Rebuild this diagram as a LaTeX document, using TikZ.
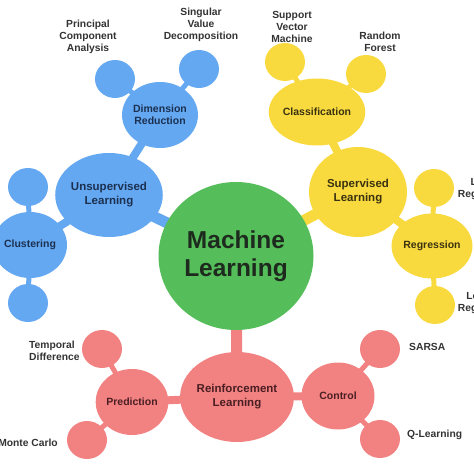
\documentclass[tikz,border=0pt]{standalone}
\usepackage{fontspec}
\setmainfont{Liberation Sans}
\usetikzlibrary{shapes.geometric}
\pgfdeclarelayer{bg}
\pgfsetlayers{bg,main}
\definecolor{cBlue}{HTML}{64A8F2}
\definecolor{cGreen}{HTML}{55BD5A}
\definecolor{cYellow}{HTML}{F9DA3E}
\definecolor{cRed}{HTML}{F28282}
\definecolor{tBlue}{HTML}{1C3050}
\definecolor{tGreen}{HTML}{1E2A1E}
\definecolor{tYellow}{HTML}{3A3210}
\definecolor{tRed}{HTML}{4A1E22}
\definecolor{tLab}{HTML}{333333}
\begin{document}
\begin{tikzpicture}[x=1pt,y=-1pt,
  bub/.style={ellipse, inner sep=0pt, align=center, font=\bfseries\fontsize{10.5}{12}\selectfont},
  mainb/.style={bub, font=\bfseries\fontsize{11.5}{14}\selectfont},
  leaf/.style={ellipse, inner sep=0pt, minimum width=40pt, minimum height=38pt},
  lab/.style={inner sep=0pt, align=center, text=tLab, font=\bfseries\fontsize{10.3}{12}\selectfont},
  thick conn/.style={line width=11pt},
  mid conn/.style={line width=8pt},
  neck/.style={line width=5pt}]
\useasboundingbox (0,0) rectangle (474,474);
\clip (0,0) rectangle (474,474);

% centre
\node[bub, fill=cGreen, text=tGreen, minimum width=155pt, minimum height=148pt,
      font=\bfseries\fontsize{24.5}{28}\selectfont] (ML) at (236,256) {Machine\\Learning};

% unsupervised (blue)
\node[mainb, fill=cBlue, text=tBlue, minimum width=104pt, minimum height=84pt] (UL) at (109,195) {Unsupervised\\Learning};
\node[bub, fill=cBlue, text=tBlue, minimum width=74pt, minimum height=66pt] (DR) at (160,115) {Dimension\\Reduction};
\node[bub, fill=cBlue, text=tBlue, minimum width=74pt, minimum height=66pt] (CL) at (30,245) {Clustering};
\node[leaf, fill=cBlue] (pca) at (115,79) {};
\node[leaf, fill=cBlue] (svd) at (199,69) {};
\node[leaf, fill=cBlue] (cl1) at (28,187) {};
\node[leaf, fill=cBlue] (cl2) at (28,303) {};
\node[lab] (lpca) at (88,37) {Principal\\Component\\Analysis};
\node[lab] (lsvd) at (201,25) {Singular\\Value\\Decomposition};

% supervised (yellow)
\node[mainb, fill=cYellow, text=tYellow, minimum width=98pt, minimum height=90pt] (SL) at (358,192) {Supervised\\Learning};
\node[bub, fill=cYellow, text=tYellow, minimum width=75pt, minimum height=67pt] (CF) at (317,112) {Classification};
\node[bub, fill=cYellow, text=tYellow, minimum width=75pt, minimum height=65pt] (RG) at (432,246) {Regression};
\node[leaf, fill=cYellow] (svm) at (285,62) {};
\node[leaf, fill=cYellow] (rf) at (366,74) {};
\node[leaf, fill=cYellow] (rg1) at (434,188) {};
\node[leaf, fill=cYellow] (rg2) at (435,305) {};
\node[lab] (lsvm) at (292,27) {Support\\Vector\\Machine};
\node[lab] (lrf) at (380,42) {Random\\Forest};
\node[lab] (lrg1) at (486,189) {Linear\\Regression};
\node[lab] (lrg2) at (486,303) {Logistic\\Regression};

% reinforcement (red)
\node[mainb, fill=cRed, text=tRed, minimum width=100pt, minimum height=90pt] (RL) at (237,397) {Reinforcement\\Learning};
\node[bub, fill=cRed, text=tRed, minimum width=72pt, minimum height=66pt] (PR) at (132,402) {Prediction};
\node[bub, fill=cRed, text=tRed, minimum width=73pt, minimum height=67pt] (CT) at (338,396) {Control};
\node[leaf, fill=cRed] (td) at (102,349) {};
\node[leaf, fill=cRed] (mc) at (87,440) {};
\node[leaf, fill=cRed] (sa) at (380,349) {};
\node[leaf, fill=cRed] (ql) at (380,439) {};
\node[lab, align=left, anchor=west] (ltd) at (29,351) {Temporal\\Difference};
\node[lab, anchor=east] (lmc) at (58,443) {Monte Carlo};
\node[lab, anchor=west] (lsa) at (409,347) {SARSA};
\node[lab, anchor=west] (lql) at (407,435) {Q-Learning};

\begin{pgfonlayer}{bg}
  \draw[thick conn, cBlue] (ML.center) -- (UL.center);
  \draw[thick conn, cYellow] (ML.center) -- (SL.center);
  \draw[thick conn, cRed] (ML.center) -- (RL.center);
  \draw[mid conn, cBlue] (UL.center) -- (DR.center);
  \draw[mid conn, cBlue] (UL.center) -- (CL.center);
  \draw[mid conn, cYellow] (SL.center) -- (CF.center);
  \draw[mid conn, cYellow] (SL.center) -- (RG.center);
  \draw[mid conn, cRed] (RL.center) -- (PR.center);
  \draw[mid conn, cRed] (RL.center) -- (CT.center);
  \draw[neck, cBlue] (DR.center) -- (pca.center);
  \draw[neck, cBlue] (DR.center) -- (svd.center);
  \draw[neck, cBlue] (CL.center) -- (cl1.center);
  \draw[neck, cBlue] (CL.center) -- (cl2.center);
  \draw[neck, cYellow] (CF.center) -- (svm.center);
  \draw[neck, cYellow] (CF.center) -- (rf.center);
  \draw[neck, cYellow] (RG.center) -- (rg1.center);
  \draw[neck, cYellow] (RG.center) -- (rg2.center);
  \draw[neck, cRed] (PR.center) -- (td.center);
  \draw[neck, cRed] (PR.center) -- (mc.center);
  \draw[neck, cRed] (CT.center) -- (sa.center);
  \draw[neck, cRed] (CT.center) -- (ql.center);
\end{pgfonlayer}
\end{tikzpicture}
\end{document}
